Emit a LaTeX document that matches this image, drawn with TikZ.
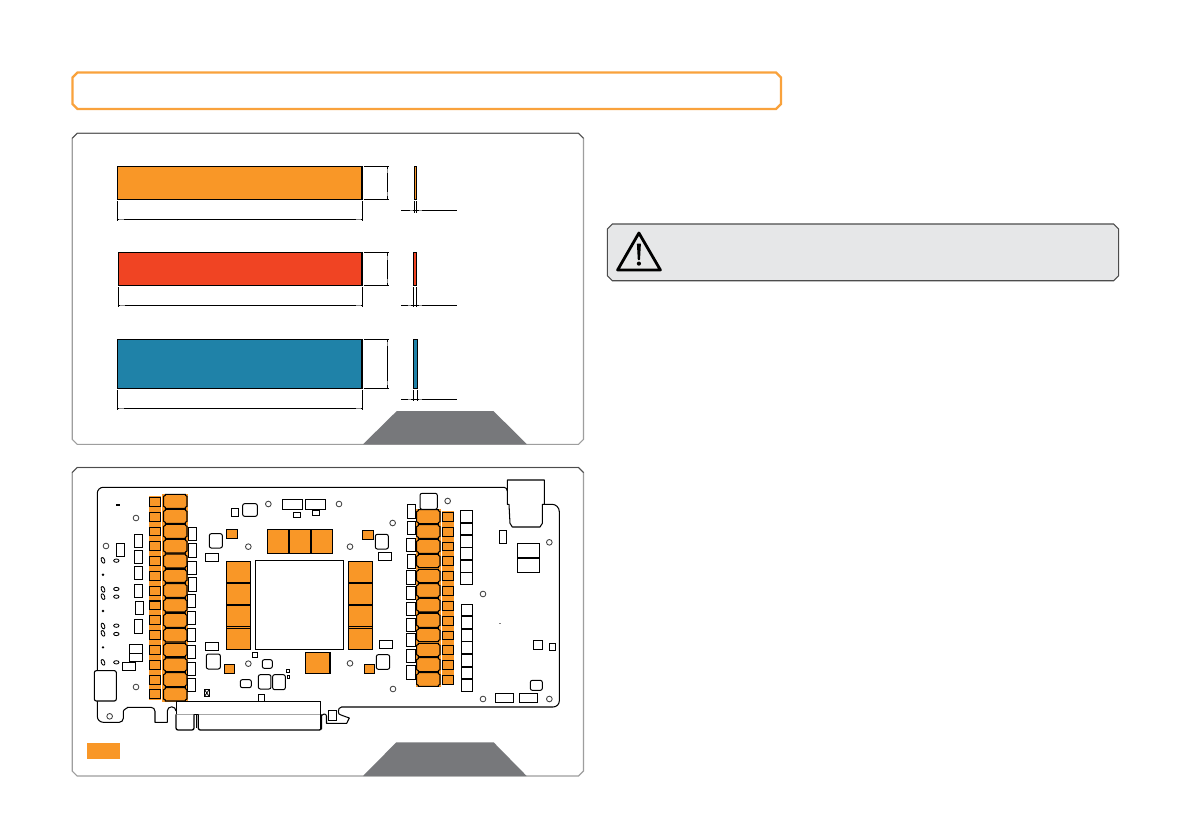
\documentclass[tikz,border=0pt]{standalone}
\definecolor{orng}{HTML}{F99727}
\definecolor{hdr}{HTML}{F9A23C}
\definecolor{redb}{HTML}{F04423}
\definecolor{blub}{HTML}{1F82A8}
\definecolor{gry}{HTML}{77787B}
\definecolor{pane}{HTML}{E6E7E8}
\tikzset{
 wb/.style={draw=black,fill=white,line width=1pt},
 ob/.style={draw=black,fill=orng,line width=1.1pt},
 rb/.style={draw=black,fill=white,line width=1pt,rounded corners=2pt},
 dim/.style={draw=black,line width=1pt},
 tick/.style={draw=black!45,line width=1pt},
 hole/.style={draw=black!75,fill=white,line width=.85pt},
 edge/.style={draw=black,line width=1.05pt,line join=round},
 z2/.style={shift={(70,465)},x=.33333pt,y=-.33333pt},
 z3/.style={shift={(320,465)},x=.33333pt,y=-.33333pt},
}
\newcommand{\chamf}[5]{\path[#5] (#1+5,#2)--(#3-5,#2)--(#3,#2+5)--(#3,#4-5)--(#3-5,#4)--(#1+5,#4)--(#1,#4-5)--(#1,#2+5)--cycle;}
\newcommand{\chk}[4]{\path[draw=black,fill=orng,line width=1.05pt,line join=miter] (#1+5,#2)--(#3-5,#2)--(#3-5,#2+3)--(#3,#2+6)--(#3,#4-6)--(#3-5,#4-3)--(#3-5,#4)--(#1+5,#4)--(#1+5,#4-3)--(#1,#4-6)--(#1,#2+6)--(#1+5,#2+3)--cycle;}
\newcommand{\dimset}[9]{%
 \path[fill=#5,draw=black,line width=1.1pt] (#1,#3) rectangle (#2,#4);
 \path[fill=#5,draw=black,line width=1pt] (#6,#3) rectangle (#7,#4);
 \draw[dim] (#2+2,#3)--(389,#3) (#2+2,#4)--(389,#4);
 \draw[dim] (387.6,#3)--(387.6,#4);
 \draw[tick] (387.2,#3+3)--(387.2,#3+7) (387.2,#4-3)--(387.2,#4-7);
 \draw[dim] (#1,#4+1.5)--(#1,#8+2) (#2,#4+1.5)--(#2,#8+2);
 \draw[dim] (#1,#8)--(#2,#8);
 \draw[tick] (#1+1,#8)--(#1+6,#8) (#2-1,#8)--(#2-6,#8);
 \draw[dim] (#6,#4+1.5)--(#6,#9+2) (#7,#4+1.5)--(#7,#9+2);
 \draw[dim] (401,#9)--(457,#9);
 \draw[tick] (#6-5,#9)--(#6-2,#9) (#7+2,#9)--(#7+5,#9);
}
\begin{document}
\begin{tikzpicture}[x=1pt,y=-1pt]
\useasboundingbox (0,0) rectangle (1192,840);
\fill[white] (0,0) rectangle (1192,840);
\chamf{72.5}{72.5}{781}{109}{draw=hdr,line width=2.4pt,fill=white}
\chamf{72.2}{133.3}{583.5}{444.3}{draw=black!38,line width=1.1pt,fill=white}
\draw[black!70,line width=.9pt] (72.2,138.3)--(77.2,133.3)--(578.5,133.3)--(583.5,138.3);
\chamf{72.2}{467.5}{583.5}{776}{draw=black!38,line width=1.1pt,fill=white}
\draw[black!70,line width=.9pt] (72.2,472.5)--(77.2,467.5)--(578.5,467.5)--(583.5,472.5);
\dimset{117.5}{362}{166.5}{199.5}{orng}{414.5}{416.7}{219.3}{210.5}
\dimset{118.5}{362}{252.5}{285.5}{redb}{413.3}{416.7}{305.3}{305.3}
\dimset{117.5}{362}{339.3}{388.3}{blub}{413.3}{417.3}{408.3}{399.3}
\fill[gry] (363,444.3)--(396.8,411)--(493.4,411)--(527,444.3)--cycle;
\fill[gry] (363,776)--(396.3,742.3)--(493.6,742.3)--(526.7,776)--cycle;
\chamf{607.4}{224}{1118.6}{280.7}{draw=black!70,line width=1.1pt,fill=pane}
\draw[black,line width=2.8pt,line join=round] (638.9,233)--(660.4,270)--(617.6,270)--cycle;
\fill[black,rounded corners=.6pt] (636.9,243.5)--(640.9,243.5)--(640,260)--(637.8,260)--cycle;
\fill[black] (638.9,263.6) circle (2.1);
\draw[edge] (504,487.3)--(103.3,487.3) to[out=180,in=90] (97.3,493.3)--(97.3,716.3) to[out=270,in=180] (103.3,722.3)--(119.3,722.3) to[out=0,in=270] (123.3,718.3)--(123.3,711.3) to[out=90,in=0] (127.3,707.3)--(151,707.3) to[out=0,in=90] (155,711.3)--(155,722.3)--(167.3,722.3)--(167.3,711) to[out=90,in=180] (171.7,706.8) to[out=0,in=90] (176,711);
\draw[edge] (504,487.3) to[out=0,in=90] (507.3,491);
\draw[edge] (544,504.3)--(552,504.3) to[out=0,in=90] (559.3,511.7)--(559.3,701) to[out=270,in=0] (553,707)--(341.5,707) to[out=180,in=90] (338.3,711.7) to[out=270,in=180] (341,715)--(349.3,718) -- (346.7,723.3)--(326.5,723.3)--(326.5,716) to[out=90,in=0] (324,714)--(321.5,715.5)--(321.5,729);
\begin{scope}[z2]
 \fill[orng] (237,94) rectangle (273,705);
 \fill[orng] (276,88) rectangle (353,710);
 \foreach \a/\b in {97/124,142/170,187/212,230/257,275/302,320/347,364/391,408/434,452/479,497/523,542/568,587/613,631/658,673/701}
   \draw[ob] (239,\a) rectangle (271,\b);
 \foreach \a/\b in {88/130,133/175,178/220,223/264,267/309,313/352,356/397,401/441,445/487,490/531,535/575,579/620,623/665,668/708}
   \chk{281}{\a}{351}{\b}
 \foreach \y in {131.5,176.5,221.5,310.5,354,399,443,488.5,576.5,621.5,666.5}
   \draw[line width=1.6pt] (286,\y)--(346,\y);
 \foreach \a/\b/\c/\d in {355/187/380/226,355/236/380/277,353/290/380/328,355/338/380/379,353/388/377/428,353/439/377/479,353/490/377/530,353/541/377/581,353/592/377/632,353/640/377/680}
   \draw[wb] (\a,\b) rectangle (\c,\d);
 \foreach \a/\b/\c/\d in {193/208/218/247,193/256/218/296,193/304/218/344,193/358/218/398,196/409/221/449,193/463/218/505,139/235/163/274,157/592/197/617,178/538/218/565,178/565/218/590,484/130/505/154,637/103/697/133,706/103/767/133,670/141/691/157,727/136/748/151,405/265/445/289,406/532/445/556,547/562/562/577,649/612/659/622,652/632/659/640,565/688/583/710,403/674/418/694}
   \draw[wb] (\a,\b) rectangle (\c,\d);
 \draw[line width=1.5pt] (178,565)--(218,565);
 \draw[line width=.8pt] (405,676)--(416,692) (416,676)--(405,692);
 \foreach \a/\b/\c/\d in {518/116/562/154,418/206/457/249,409/567/451/612,577/584/607/610,511/644/544/668,565/629/603/672,608/629/646/674}
   \draw[rb] (\a,\b) rectangle (\c,\d);
 \draw[rb,line width=1.1pt] (73,617) rectangle (139,708);
 \foreach \x/\y in {198/159,108/243,198/666,119/754,595/117,535/245,535/596}
   \draw[hole] (\x,\y) circle (8.5);
 \fill (139,116) rectangle (149,122);
 \foreach \y in {329,438,547} \fill (99,\y) circle (4);
 \foreach \y in {286,373,395,483,505,592} \draw[line width=.85pt,rotate around={20:(99,\y)}] (99,\y) ellipse (5 and 9);
 \foreach \y in {287,372,395,482,507,592} \draw[line width=.85pt] (139,\y) ellipse (8 and 5);
 \foreach \a/\b/\c/\d in {470/194/502/220,463/598/493/625,592/193/656/265,659/193/722/265,725/193/787/265,706/562/780/625}
   \draw[ob] (\a,\b) rectangle (\c,\d);
 \draw[ob] (469,290) rectangle (541,553);
 \draw[line width=1.5pt] (469,354)--(541,354) (469,420)--(541,420);
 \draw[line width=.8pt] (469,485)--(541,485) (469,489)--(541,489);
 \draw[wb,line width=1.05pt] (556,286) rectangle (821,553);
 \draw[wb] (318,708) rectangle (752,748);
 \draw[rb,line width=1.3pt] (318,748)--(318,795)--(372,795)--(372,748);
 \draw[rb,line width=1.3pt] (385,748)--(385,795)--(754,795)--(754,748);
 \draw[line width=.9pt] (378,748)--(378,790);
\end{scope}
\begin{scope}[z3]
 \fill[orng] (287,133) rectangle (362,665);
 \fill[orng] (365,138) rectangle (402,660);
 \foreach \a/\b in {134/176,179/220,223/265,268/308,313/353,356/397,400/441,445/487,490/530,535/575,578/620,623/664}
   \chk{290}{\a}{360}{\b}
 \foreach \y in {177.5,221.5,266.5,355,398.5,443,488.5,576.5,621.5}
   \draw[line width=1.6pt] (295,\y)--(355,\y);
 \foreach \a/\b in {142/169,187/214,232/257,275/302,320/347,364/391,409/436,454/481,499/524,542/568,587/613,631/658}
   \draw[ob] (368,\a) rectangle (400,\b);
 \foreach \a/\b/\c/\d in {262/118/287/160,262/169/287/208,259/220/285/258,262/268/285/310,259/316/285/358,259/364/285/403,259/412/285/451,259/460/285/499,259/505/285/544,259/553/285/592,259/601/285/643,
   421/137/458/173,421/175/458/209,421/211/458/247,421/248/458/284,421/286/458/321,421/323/458/358,423/418/458/452,423/455/458/490,423/493/458/528,423/530/458/565,423/568/458/603,423/606/458/641,423/644/458/680,
   175/262/214/286,178/526/217/550,538/196/559/235,640/526/667/553,688/535/706/556,526/686/580/712,598/686/652/712,24/736/50/766}
   \draw[wb] (\a,\b) rectangle (\c,\d);
 \foreach \y in {174,210,285,322,453.5,491,566.5,604.5,642.5}
   \draw[line width=1.3pt] (423,\y)--(456,\y);
 \foreach \a/\b/\c/\d in {166/208/205/252,169/569/209/613,300/85/352/133,631/646/667/676}
   \draw[rb] (\a,\b) rectangle (\c,\d);
 \draw[wb,line width=1.05pt,line join=round] (562,45)--(673,45)--(673,118)--(667,118)--(667,175)--(660,186)--(577,186)--(570,175)--(567,118)--(562,118)--cycle;
 \draw[wb] (592,236) rectangle (657,279);
 \draw[wb] (592,279) rectangle (657,322);
 \draw[line width=1.5pt] (592,279)--(657,279);
 \foreach \x/\y in {57/117,218/174,90/245,90/595,219/672,383/108,688/232,489/387,489/702,688/702}
   \draw[hole] (\x,\y) circle (8.5);
 \fill[black!50] (538,473) rectangle (542,475);
 \foreach \a/\b/\c/\d in {128/196/160/223,133/598/163/625}
   \draw[ob] (\a,\b) rectangle (\c,\d);
 \draw[ob] (85,290) rectangle (157,553);
 \draw[line width=1.5pt] (85,354)--(157,354) (85,420)--(157,420);
 \draw[line width=.8pt] (85,485)--(157,485) (85,489)--(157,489);
 \draw[line width=1.4pt] (2,708)--(2,795);
\end{scope}
\begin{scope}[z2]
 \fill[orng] (51,834) rectangle (149,881);
\end{scope}
\end{tikzpicture}
\end{document}
